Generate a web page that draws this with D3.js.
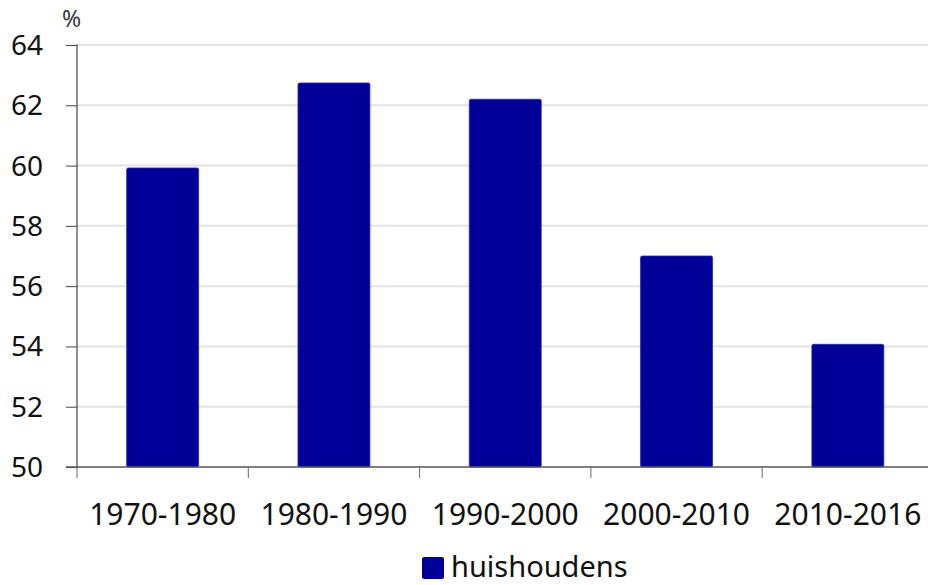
<!DOCTYPE html>
<html>
<head>
<meta charset="utf-8">
<script src="https://cdn.jsdelivr.net/npm/d3@7"></script>
<style>
  body { margin: 0; background: #fff; }
  text { font-family: "Noto Sans", "Open Sans", sans-serif; fill: #111; }
</style>
</head>
<body>
<script>
var w = 928;
var h = 585;

// data
var periods = ["1970-1980", "1980-1990", "1990-2000", "2000-2010", "2010-2016"];
var huishoudens = [59.92, 62.74, 62.2, 57.0, 54.07];
var yTicks = [50, 52, 54, 56, 58, 60, 62, 64];
var seriesName = "huishoudens";

// plot area
var left = 77;
var top_ = 45;
var bottom = 467;
var right = 77 + 5 * 171.3;

var barColor = "#000099";

var svg = d3.select("body")
            .append("svg")
            .attr("width", w)
            .attr("height", h);

var x = d3.scaleBand()
          .domain(periods)
          .range([left, right])
          .paddingInner(0.58)
          .paddingOuter(0.29);

var xTicks = d3.scaleLinear().domain([0, periods.length]).range([left, right]);

var y = d3.scaleLinear()
          .domain([50, 64])
          .range([bottom, top_]);

// gridlines
svg.append("g")
   .attr("id", "grid")
   .selectAll("line")
   .data(yTicks.slice(1))
   .enter()
   .append("line")
   .attr("x1", left)
   .attr("x2", w)
   .attr("y1", function(d){ return y(d); })
   .attr("y2", function(d){ return y(d); })
   .attr("stroke", "#e3e3e3")
   .attr("stroke-width", 2);

// bars
svg.append("g")
   .attr("id", "bars")
   .selectAll("rect")
   .data(huishoudens)
   .enter()
   .append("rect")
   .attr("x", function(d, i){ return x(periods[i]); })
   .attr("y", function(d){ return y(d); })
   .attr("width", x.bandwidth())
   .attr("height", function(d){ return y(50) - y(d); })
   .attr("rx", 1.5)
   .attr("fill", barColor)
   .attr("stroke", "#2a2aa8")
   .attr("stroke-width", 0.8);

// y axis
var yAxis = svg.append("g")
   .attr("transform", "translate(" + left + ",0)")
   .call(d3.axisLeft(y).tickValues(yTicks).tickSize(11).tickPadding(23).tickFormat(d3.format("d")));
yAxis.select(".domain").attr("stroke", "#222").attr("d", "M0," + (y(64) - 0.5) + "V" + bottom);
yAxis.selectAll(".tick line").attr("stroke", "#444");
yAxis.selectAll("text").style("font-size", "28px").attr("dy", "0.34em");

// x axis line and ticks between the bands
svg.append("line")
   .attr("x1", left - 11).attr("x2", w)
   .attr("y1", bottom).attr("y2", bottom)
   .attr("stroke", "#555").attr("stroke-width", 1.3);

svg.append("g")
   .selectAll("line")
   .data(d3.range(periods.length + 1))
   .enter()
   .append("line")
   .attr("x1", function(d){ return xTicks(d); })
   .attr("x2", function(d){ return xTicks(d); })
   .attr("y1", bottom)
   .attr("y2", bottom + 11)
   .attr("stroke", "#666");

svg.append("g")
   .selectAll("text")
   .data(periods)
   .enter()
   .append("text")
   .attr("x", function(d){ return x(d) + x.bandwidth() / 2; })
   .attr("y", 525)
   .attr("text-anchor", "middle")
   .style("font-size", "30px")
   .text(function(d){ return d; });

// unit label
svg.append("text")
   .attr("x", 62)
   .attr("y", 27)
   .style("font-size", "23px")
   .style("fill", "#333")
   .text("%");

// legend
var legend = svg.append("g").attr("id", "legend");
legend.append("rect")
      .attr("x", 422).attr("y", 557)
      .attr("width", 22).attr("height", 22)
      .attr("rx", 2)
      .attr("fill", barColor);
legend.append("text")
      .attr("x", 451).attr("y", 577)
      .style("font-size", "29px")
      .text(seriesName);
</script>
</body>
</html>
